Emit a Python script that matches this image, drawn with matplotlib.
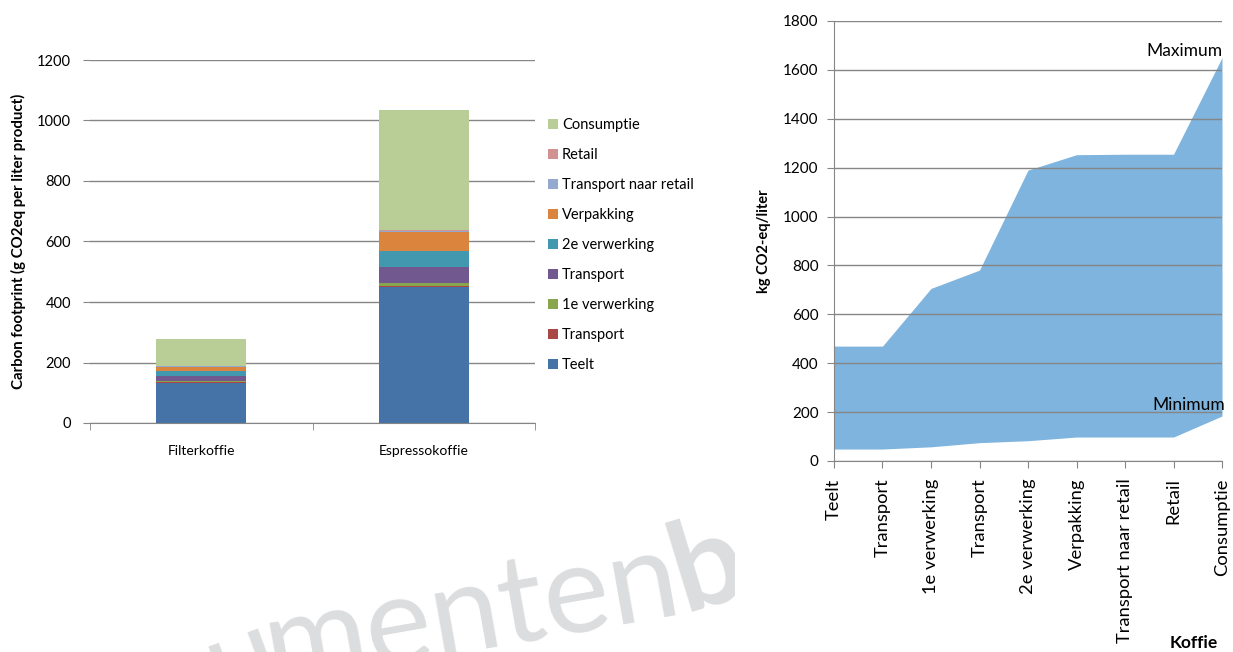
import matplotlib
matplotlib.use('Agg')
import matplotlib.pyplot as plt
from matplotlib.patches import Patch, Rectangle
from matplotlib.textpath import TextPath
from matplotlib.font_manager import FontProperties
import numpy as np

plt.rcParams['font.family'] = ['Lato', 'DejaVu Sans']

# left chart: carbon footprint per stage (g CO2eq per liter product)
products = ['Filterkoffie', 'Espressokoffie']
stages = ['Teelt', 'Transport', '1e verwerking', 'Transport', '2e verwerking',
          'Verpakking', 'Transport naar retail', 'Retail', 'Consumptie']
stage_colors = ['#4572A7', '#AA4643', '#89A54E', '#71588F', '#4198AF',
                '#DB843D', '#93A9CF', '#D19392', '#B9CD96']
filter_vals = [133, 1, 5, 17, 17, 13, 1, 3, 88]
espresso_vals = [450, 2, 12, 53, 53, 63, 1, 3, 397]

# right chart: cumulative range (kg CO2-eq/liter)
steps = ['Teelt', 'Transport', '1e verwerking', 'Transport', '2e verwerking',
         'Verpakking', 'Transport naar retail', 'Retail', 'Consumptie']
minimum = [49, 49, 58, 75, 83, 98, 98, 98, 184]
maximum = [470, 470, 706, 781, 1190, 1253, 1255, 1255, 1650]

W, H = 1233, 652
fig = plt.figure(figsize=(W / 100, H / 100), dpi=100)
grid_c = '#868686'

def fx(px):
    return px / W

def fy(py):
    return 1 - py / H

# ---- left: stacked bars
ax1 = fig.add_axes([fx(90), fy(423), fx(535) - fx(90), fy(60) - fy(423)])
x = np.arange(len(products))
bottom = np.zeros(len(products))
for i, name in enumerate(stages):
    vals = np.array([filter_vals[i], espresso_vals[i]])
    ax1.bar(x, vals, 0.405, bottom=bottom, color=stage_colors[i], zorder=2)
    bottom += vals

ax1.set_xlim(-0.5, 1.5)
ax1.set_ylim(0, 1200)
ax1.set_yticks(np.arange(0, 1201, 200))
ax1.yaxis.grid(True, color=grid_c, lw=1)
ax1.set_axisbelow(True)
for s in ['top', 'right', 'left']:
    ax1.spines[s].set_visible(False)
ax1.spines['bottom'].set_color(grid_c)
ax1.set_xticks(x)
ax1.set_xticklabels(products, fontsize=10)
ax1.set_xticks([-0.5, 0.5, 1.5], minor=True)
ax1.tick_params(axis='x', which='major', length=0, pad=15.5)
ax1.tick_params(axis='x', which='minor', length=5, color=grid_c)
ax1.tick_params(axis='y', length=5, color=grid_c, labelsize=10.5, pad=8.5)
ax1.set_ylabel('Carbon footprint (g CO2eq per liter product)', fontsize=10.8,
               fontweight='bold', labelpad=8)

handles = [Patch(facecolor=stage_colors[i], edgecolor='none', label=stages[i])
           for i in range(len(stages))][::-1]
fig.legend(handles=handles, loc='upper left', bbox_to_anchor=(fx(535), fy(105)),
           frameon=False, fontsize=10.5, handlelength=0.65, handleheight=0.65,
           handletextpad=0.3, labelspacing=1.1)

# ---- right: min/max range area
ax2 = fig.add_axes([fx(834), fy(461), fx(1222) - fx(834), fy(21) - fy(461)])
xs = np.arange(len(steps))
ax2.fill_between(xs, minimum, maximum, color='#7EB4DD', lw=0, zorder=1)
ax2.set_xlim(0, len(steps) - 1)
ax2.set_ylim(0, 1800)
ax2.set_yticks(np.arange(0, 1801, 200))
ax2.yaxis.grid(True, color=grid_c, lw=1, zorder=3)
ax2.set_axisbelow(False)
for s in ['top', 'right']:
    ax2.spines[s].set_visible(False)
ax2.spines['left'].set_color(grid_c)
ax2.spines['bottom'].set_color(grid_c)
ax2.set_xticks(xs)
ax2.set_xticklabels(steps, rotation=90, va='top', ha='center', fontsize=13.2)
ax2.tick_params(axis='x', length=5, color=grid_c, pad=7.5)
ax2.tick_params(axis='y', length=5, color=grid_c, labelsize=11, pad=6)
ax2.set_ylabel('kg CO2-eq/liter', fontsize=10.5, fontweight='bold', labelpad=9)
ax2.text(8, 1655, 'Maximum', ha='right', va='baseline', fontsize=12.5)
ax2.text(8.06, 230, 'Minimum', ha='right', va='center', fontsize=12.5)
fig.text(fx(1194), fy(643), 'Koffie', ha='center', va='center', fontsize=12.5,
         fontweight='bold')

# ---- watermark on a slight curve, covered on the right by the second chart's white area
wm_size = 90
wm_kw = dict(color='#DCDDDE', rotation_mode='anchor', va='baseline',
             fontsize=wm_size, zorder=-2)
bx, by = 684, 612  # baseline point where "bank" starts (pixels from top-left)
fig.text(fx(bx), fy(by), 'bank', ha='left', rotation=17, fontweight='bold', **wm_kw)
fig.text(fx(bx), fy(by), 'menten', ha='right', rotation=10, **wm_kw)
w_px = TextPath((0, 0), 'menten', prop=FontProperties(family='Lato', size=wm_size)).get_extents().width * 100 / 72
mx = bx - w_px * np.cos(np.radians(10))
my = by + w_px * np.sin(np.radians(10))
fig.text(fx(mx), fy(my), 'docu', ha='right', rotation=20, **wm_kw)
fig.patches.append(Rectangle((fx(735), 0), 1 - fx(735), 1, transform=fig.transFigure,
                             facecolor='white', edgecolor='none', zorder=-1))

fig.savefig('out.png', dpi=100)
